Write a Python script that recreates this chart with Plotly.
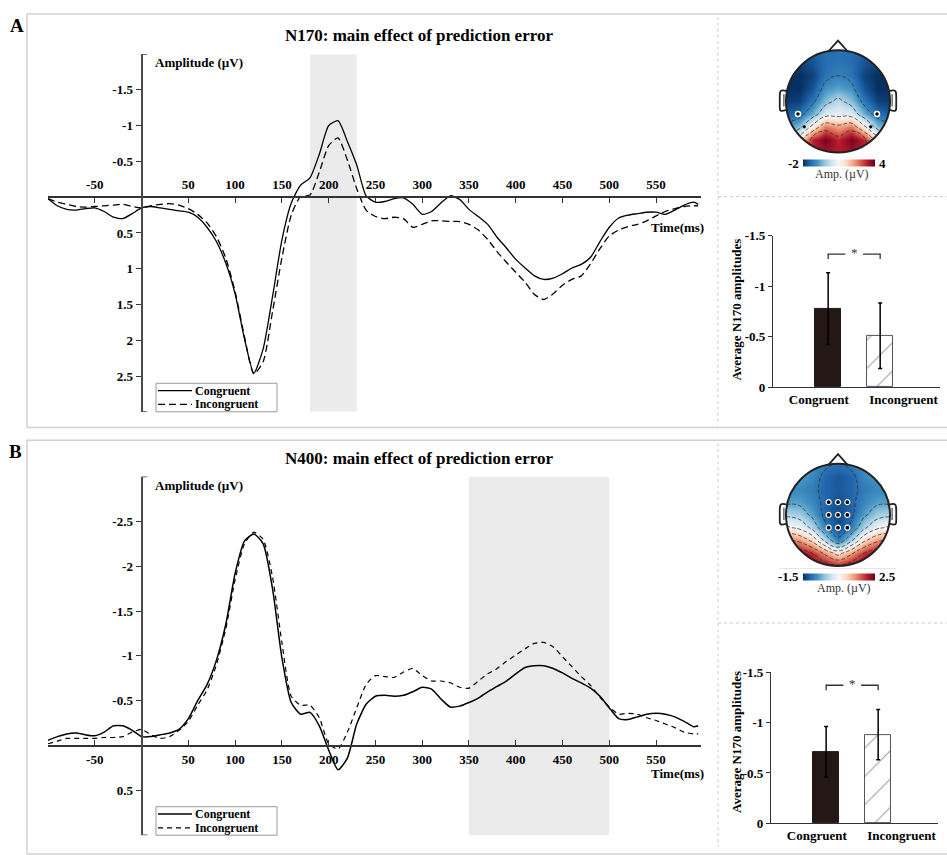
import math
import plotly.graph_objects as go

W, H = 947, 855
SERIF = "Liberation Serif"

# ---------------- data ----------------
times = [-100, -90, -80, -70, -60, -50, -40, -30, -20, -10, 0, 10, 20, 30, 40, 50, 60, 70, 80, 90,
         100, 110, 120, 130, 140, 150, 160, 170, 180, 190, 200, 210, 220, 230, 240, 250, 260, 270,
         280, 290, 300, 310, 320, 330, 340, 350, 360, 370, 380, 390, 400, 410, 420, 430, 440, 450,
         460, 470, 480, 490, 500, 510, 520, 530, 540, 550, 560, 570, 580, 590, 595]

n170_congruent = [0.02, 0.12, 0.17, 0.18, 0.16, 0.15, 0.20, 0.28, 0.30, 0.23, 0.15, 0.13, 0.15, 0.17,
                  0.19, 0.21, 0.28, 0.42, 0.62, 0.92, 1.35, 1.98, 2.46, 2.12, 1.39, 0.60, 0.08, -0.17,
                  -0.27, -0.60, -1.00, -1.07, -0.78, -0.45, -0.02, 0.07, 0.06, 0.02, 0.01, 0.10, 0.24,
                  0.20, 0.08, -0.02, 0.03, 0.17, 0.27, 0.38, 0.56, 0.71, 0.87, 0.99, 1.10, 1.15, 1.13,
                  1.07, 0.99, 0.94, 0.84, 0.62, 0.42, 0.29, 0.25, 0.23, 0.21, 0.21, 0.24, 0.18, 0.11,
                  0.07, 0.10]
n170_incongruent = [0.02, 0.07, 0.10, 0.13, 0.14, 0.13, 0.12, 0.11, 0.10, 0.13, 0.15, 0.12, 0.10, 0.09,
                    0.11, 0.16, 0.24, 0.36, 0.55, 0.85, 1.32, 1.95, 2.47, 2.30, 1.60, 0.85, 0.25, -0.01,
                    -0.03, -0.35, -0.72, -0.83, -0.52, -0.12, 0.18, 0.27, 0.30, 0.28, 0.30, 0.42, 0.38,
                    0.33, 0.33, 0.34, 0.34, 0.38, 0.46, 0.59, 0.76, 0.91, 1.05, 1.19, 1.36, 1.43, 1.35,
                    1.23, 1.15, 1.10, 0.93, 0.72, 0.54, 0.46, 0.41, 0.38, 0.33, 0.26, 0.20, 0.16, 0.13,
                    0.12, 0.12]

n400_congruent = [-0.06, -0.10, -0.13, -0.14, -0.12, -0.11, -0.15, -0.22, -0.22, -0.17, -0.10, -0.10,
                  -0.12, -0.14, -0.18, -0.30, -0.50, -0.68, -0.95, -1.35, -1.92, -2.28, -2.36, -2.25,
                  -1.75, -0.98, -0.48, -0.35, -0.37, -0.22, 0.05, 0.27, 0.14, -0.24, -0.46, -0.55,
                  -0.56, -0.55, -0.56, -0.60, -0.65, -0.63, -0.52, -0.43, -0.44, -0.48, -0.53, -0.60,
                  -0.66, -0.72, -0.80, -0.87, -0.89, -0.89, -0.86, -0.81, -0.75, -0.70, -0.64, -0.55,
                  -0.42, -0.30, -0.29, -0.32, -0.35, -0.36, -0.35, -0.32, -0.27, -0.21, -0.22]
n400_incongruent = [-0.02, -0.05, -0.08, -0.08, -0.08, -0.08, -0.09, -0.09, -0.10, -0.15, -0.18, -0.12,
                    -0.08, -0.10, -0.17, -0.27, -0.45, -0.62, -0.90, -1.30, -1.85, -2.25, -2.38, -2.30,
                    -1.88, -1.15, -0.55, -0.45, -0.45, -0.31, -0.02, 0.04, -0.15, -0.42, -0.68, -0.78,
                    -0.77, -0.76, -0.82, -0.86, -0.78, -0.72, -0.72, -0.70, -0.65, -0.64, -0.72, -0.80,
                    -0.86, -0.94, -1.01, -1.08, -1.14, -1.15, -1.10, -0.99, -0.88, -0.77, -0.67, -0.54,
                    -0.43, -0.35, -0.36, -0.35, -0.31, -0.28, -0.24, -0.20, -0.15, -0.13, -0.13]

n170_window = [180, 230]
n400_window = [350, 500]

erp_xticks = [-50, 50, 100, 150, 200, 250, 300, 350, 400, 450, 500, 550]
n170_yticks = [-1.5, -1, -0.5, 0.5, 1, 1.5, 2, 2.5]
n400_yticks = [-2.5, -2, -1.5, -1, -0.5, 0.5]

conditions = ["Congruent", "Incongruent"]
n170_bar_means = [-0.78, -0.51]
n170_bar_se = [0.355, 0.325]
n400_bar_means = [-0.71, -0.88]
n400_bar_se = [0.25, 0.25]
bar_yticks = [0, -0.5, -1, -1.5]

# topography grids (head coords, rows listed from front/top y=1 to back y=-1)
topo_coords = [-1.0, -0.75, -0.5, -0.25, 0.0, 0.25, 0.5, 0.75, 1.0]
n170_topo_rows = [
    [-1.6, -1.6, -1.5, -1.3, -1.3, -1.3, -1.5, -1.6, -1.6],
    [-1.8, -1.8, -1.6, -1.3, -1.2, -1.3, -1.6, -1.8, -1.8],
    [-2.0, -2.0, -1.8, -1.2, -1.0, -1.2, -1.8, -2.0, -2.0],
    [-2.0, -2.0, -1.6, -0.8, -0.6, -0.8, -1.6, -2.0, -2.0],
    [-1.9, -1.8, -1.2, -0.3, 0.2, -0.3, -1.2, -1.8, -1.9],
    [-1.5, -1.3, -0.5, 0.6, 0.7, 0.6, -0.5, -1.3, -1.5],
    [-0.8, -0.3, 1.2, 2.6, 2.2, 2.6, 1.2, -0.3, -0.8],
    [0.3, 1.5, 3.3, 3.9, 3.3, 3.9, 3.3, 1.5, 0.3],
    [1.0, 2.0, 3.2, 3.5, 3.4, 3.5, 3.2, 2.0, 1.0],
]
n400_topo_rows = [
    [-0.6, -0.6, -0.7, -0.9, -1.0, -0.9, -0.7, -0.6, -0.6],
    [-0.6, -0.6, -0.8, -1.1, -1.2, -1.1, -0.8, -0.7, -0.7],
    [-0.8, -0.8, -0.9, -1.1, -1.2, -1.1, -0.9, -0.8, -0.8],
    [-0.6, -0.6, -0.8, -1.1, -1.25, -1.1, -0.8, -0.6, -0.6],
    [-0.1, -0.2, -0.6, -1.1, -1.3, -1.1, -0.6, -0.2, -0.1],
    [0.6, 0.4, -0.1, -0.9, -1.3, -0.9, -0.1, 0.4, 0.6],
    [1.6, 1.4, 0.9, -0.1, -0.9, -0.1, 0.9, 1.4, 1.6],
    [2.3, 2.3, 2.0, 1.4, 0.8, 1.4, 2.0, 2.3, 2.3],
    [2.5, 2.5, 2.4, 2.3, 2.1, 2.3, 2.4, 2.5, 2.5],
]
n170_elec_x = [-0.77, 0.75]
n170_elec_y = [-0.25, -0.25]
n170_elec2_x = [-0.65, 0.63]
n170_elec2_y = [-0.5, -0.5]
n400_elec_x = [-0.18, 0.0, 0.18, -0.18, 0.0, 0.18, -0.18, 0.0, 0.18]
n400_elec_y = [0.25, 0.25, 0.25, 0.0, 0.0, 0.0, -0.25, -0.25, -0.25]

RDBU = ['#053061', '#2166ac', '#4393c3', '#92c5de', '#d1e5f0', '#f7f7f7',
        '#fddbc7', '#f4a582', '#d6604d', '#b2182b', '#67001f']
colorscale = [[i / (len(RDBU) - 1), c] for i, c in enumerate(RDBU)]


def px(x):
    return x / W


def py(y):
    return 1 - y / H


def font(size=13, bold=True, color="black"):
    return dict(family=SERIF, size=size, color=color, weight="bold" if bold else "normal")


fig = go.Figure()

TOP_SOLID = dict(color="black", width=1.3, shape="spline", smoothing=0.6)
TOP_DASH = dict(color="black", width=1.3, dash="7px,4px", shape="spline", smoothing=0.6)
BOT_SOLID = dict(color="black", width=1.5, shape="spline", smoothing=0.6)
BOT_DASH = dict(color="black", width=1.2, dash="5px,4px", shape="spline", smoothing=0.6)

# ---------------- ERP traces ----------------
fig.add_trace(go.Scatter(x=times, y=n170_congruent, mode="lines", name="Congruent",
                         line=TOP_SOLID, xaxis="x", yaxis="y", showlegend=False))
fig.add_trace(go.Scatter(x=times, y=n170_incongruent, mode="lines", name="Incongruent",
                         line=TOP_DASH, xaxis="x", yaxis="y", showlegend=False))
fig.add_trace(go.Scatter(x=times, y=n400_congruent, mode="lines", name="Congruent",
                         line=BOT_SOLID, xaxis="x2", yaxis="y2", showlegend=False))
fig.add_trace(go.Scatter(x=times, y=n400_incongruent, mode="lines", name="Incongruent",
                         line=BOT_DASH, xaxis="x2", yaxis="y2", showlegend=False))


# ---------------- topographies ----------------
def add_topo(rows, zmin, zmax, start, end, size, xa, ya, cb_y):
    z = rows[::-1]
    fig.add_trace(go.Heatmap(x=topo_coords, y=topo_coords, z=z, zmin=zmin, zmax=zmax, zsmooth="best",
                             colorscale=colorscale, xaxis=xa, yaxis=ya, hoverinfo="skip",
                             colorbar=dict(orientation="h", x=px(839), xanchor="center",
                                           y=py(cb_y), yanchor="middle", len=72, lenmode="pixels",
                                           thickness=7, thicknessmode="pixels", showticklabels=False,
                                           ticks="", outlinewidth=0, xpad=0, ypad=0)))
    fig.add_trace(go.Contour(x=topo_coords, y=topo_coords, z=z, showscale=False, hoverinfo="skip",
                             contours=dict(coloring="none", start=start, end=end, size=size),
                             line=dict(color="#2f2f2f", width=0.75, dash="4px,2px", smoothing=1.3),
                             xaxis=xa, yaxis=ya, showlegend=False))


add_topo(n170_topo_rows, -2, 4, -1, 3, 1, "x3", "y3", 159)
add_topo(n400_topo_rows, -1.5, 2.5, -1, 2, 0.5, "x4", "y4", 580)

fig.add_trace(go.Scatter(x=n170_elec_x, y=n170_elec_y, mode="markers", xaxis="x3", yaxis="y3",
                         marker=dict(color="black", size=5, line=dict(color="white", width=1.5)),
                         showlegend=False, hoverinfo="skip"))
fig.add_trace(go.Scatter(x=n170_elec2_x, y=n170_elec2_y, mode="markers", xaxis="x3", yaxis="y3",
                         marker=dict(color="black", size=4, line=dict(color="white", width=0.6)),
                         showlegend=False, hoverinfo="skip"))
fig.add_trace(go.Scatter(x=n400_elec_x, y=n400_elec_y, mode="markers", xaxis="x4", yaxis="y4",
                         marker=dict(color="black", size=5, line=dict(color="white", width=1.2)),
                         showlegend=False, hoverinfo="skip"))

# ---------------- bar charts ----------------
bar_x = [1, 2]
for means, se, xa, ya in [(n170_bar_means, n170_bar_se, "x5", "y5"),
                          (n400_bar_means, n400_bar_se, "x6", "y6")]:
    fig.add_trace(go.Bar(x=[bar_x[0]], y=[means[0]], width=0.5, xaxis=xa, yaxis=ya,
                         marker=dict(color="#231815", line=dict(color="#231815", width=1)),
                         error_y=dict(type="data", array=[se[0]], color="black", thickness=1.5, width=2),
                         showlegend=False, hoverinfo="skip"))
    fig.add_trace(go.Bar(x=[bar_x[1]], y=[means[1]], width=0.5, xaxis=xa, yaxis=ya,
                         marker=dict(color="white", line=dict(color="#555555", width=1),
                                     pattern=dict(shape="/", fgcolor="#333333", bgcolor="white",
                                                  size=20, solidity=0.05)),
                         error_y=dict(type="data", array=[se[1]], color="black", thickness=1.5, width=2),
                         showlegend=False, hoverinfo="skip"))

# ---------------- layout ----------------
AX = "#333333"


def erp_axes(dom_top, dom_bot, yrange, yticks, side):
    ydom = [py(dom_bot), py(dom_top)]
    xdom = [px(48), px(701)]
    xr = [-100, 598]
    frac0 = (yrange[0] - 0) / (yrange[0] - yrange[1])
    xpos = ydom[0] + (ydom[1] - ydom[0]) * frac0
    ypos = xdom[0] + (xdom[1] - xdom[0]) * (0 - xr[0]) / (xr[1] - xr[0])
    xa = dict(domain=xdom, range=xr, anchor="free", position=xpos, side=side,
              showline=True, linecolor=AX, linewidth=1.5, showgrid=False, zeroline=False,
              ticks="inside", ticklen=5, tickcolor=AX, tickwidth=1.3,
              tickvals=erp_xticks + [598], ticktext=[str(v) for v in erp_xticks] + [""],
              tickfont=font(13), ticklabelstandoff=2)
    ya = dict(domain=ydom, range=yrange, anchor="free", position=ypos,
              showline=True, linecolor="#4a4a4a", linewidth=2, showgrid=False, zeroline=False,
              ticks="outside", ticklen=5, tickcolor=AX, tickwidth=1.3,
              tickvals=yticks, ticktext=[("%g" % v) for v in yticks], tickfont=font(13))
    return xa, ya


xa1, ya1 = erp_axes(48, 412, [3, -2], n170_yticks, "top")
xa2, ya2 = erp_axes(478, 843, [1, -3], n400_yticks, "bottom")


def topo_axes(cx, cy):
    s = 52.0
    xd = [px(cx - 1.25 * s), px(cx + 1.25 * s)]
    yd = [py(cy + 1.05 * s), py(cy - 1.25 * s)]
    xa = dict(domain=xd, range=[-1.25, 1.25], visible=False, fixedrange=True)
    ya = dict(domain=yd, range=[-1.05, 1.25], visible=False, fixedrange=True)
    return xa, ya


xa3, ya3 = topo_axes(838, 96)
xa4, ya4 = topo_axes(838, 517)


def bar_axes(x0, x1, ytop, ybot, yanchor_name, xanchor_name):
    xa = dict(domain=[px(x0), px(x1)], range=[-0.06, 3.15], anchor=yanchor_name,
              showline=True, linecolor=AX, linewidth=1.3, showgrid=False, zeroline=False,
              ticks="", tickvals=[0.82, 2.45], ticktext=conditions, tickfont=font(13))
    ya = dict(domain=[py(ybot), py(ytop)], range=[0, -1.5], anchor=xanchor_name,
              showline=True, linecolor=AX, linewidth=1.3, showgrid=False, zeroline=False,
              ticks="outside", ticklen=4, tickcolor=AX,
              tickvals=bar_yticks, ticktext=[("%g" % v) for v in bar_yticks], tickfont=font(13))
    return xa, ya


xa5, ya5 = bar_axes(773, 940, 233, 387, "y5", "x5")
xa6, ya6 = bar_axes(771, 938, 677, 831, "y6", "x6")

shapes = []
annotations = []


def pline(x0, y0, x1, y1, color="#c8c8c8", width=1, dash="dot"):
    shapes.append(dict(type="line", xref="paper", yref="paper", x0=px(x0), y0=py(y0),
                       x1=px(x1), y1=py(y1), line=dict(color=color, width=width, dash=dash)))


def ann(text, x, y, size=13, bold=True, xanchor="center", angle=0, color="black"):
    annotations.append(dict(text=text, x=px(x), y=py(y), xref="paper", yref="paper",
                            xanchor=xanchor, yanchor="middle", showarrow=False,
                            textangle=angle, font=font(size, bold, color)))


# panel frames
shapes.append(dict(type="rect", xref="paper", yref="paper", x0=px(27), y0=py(428), x1=px(952), y1=py(7),
                   line=dict(color="#d2d2d2", width=1.5)))
shapes.append(dict(type="rect", xref="paper", yref="paper", x0=px(27), y0=py(862), x1=px(952), y1=py(441),
                   line=dict(color="#d2d2d2", width=1.5)))
pline(718, 10, 718, 426)
pline(718, 193, 947, 193)
pline(718, 444, 718, 855)
pline(718, 627, 947, 627)

# analysis windows
shapes.append(dict(type="rect", xref="x", yref="y", x0=n170_window[0], x1=n170_window[1], y0=3, y1=-2,
                   fillcolor="#ebebeb", line=dict(width=0), layer="below"))
shapes.append(dict(type="rect", xref="x2", yref="y2", x0=n400_window[0], x1=n400_window[1], y0=1, y1=-3,
                   fillcolor="#ebebeb", line=dict(width=0), layer="below"))

# y-axis end caps
for xr_, yr_, vals in [("x", "y", [-2, 3]), ("x2", "y2", [-3, 1])]:
    for v in vals:
        shapes.append(dict(type="line", xref=xr_, yref=yr_, x0=0, x1=6, y0=v, y1=v,
                           line=dict(color="#4a4a4a", width=1.5)))

# manual legends (box, sample lines, labels)
for top, solid, dash in [(383, TOP_SOLID, TOP_DASH), (814, BOT_SOLID, BOT_DASH)]:
    shapes.append(dict(type="rect", xref="paper", yref="paper", x0=px(156), x1=px(277),
                       y0=py(top + 29), y1=py(top), fillcolor="white",
                       line=dict(color="#9a9a9a", width=1)))
    pline(158, top + 7.5, 192, top + 7.5, color="black", width=solid["width"], dash="solid")
    pline(158, top + 21.5, 192, top + 21.5, color="black", width=dash["width"], dash=dash["dash"])
    ann("Congruent", 193, top + 7.5, 12, xanchor="left")
    ann("Incongruent", 193, top + 21.5, 12, xanchor="left")

# significance brackets
for xr_, yr_, yb in [("x5", "y5", -1.32), ("x6", "y6", -1.37)]:
    shapes.append(dict(type="path", xref=xr_, yref=yr_,
                       path=f"M1,{yb + 0.05} L1,{yb} L1.33,{yb}", line=dict(color="#333", width=1.3)))
    shapes.append(dict(type="path", xref=xr_, yref=yr_,
                       path=f"M1.67,{yb} L2,{yb} L2,{yb + 0.05}", line=dict(color="#333", width=1.3)))

# topo masks & head outlines
L = 1.25
ring = []
n = 120
for k in range(n):
    a = 2 * math.pi * k / n
    ring.append(f"{math.cos(a):.4f},{math.sin(a):.4f}")
mask = f"M{-L},{-L} L{L},{-L} L{L},{L} L{-L},{L} Z M" + " L".join(ring) + " Z"
for xr_, yr_ in [("x3", "y3"), ("x4", "y4")]:
    shapes.append(dict(type="path", xref=xr_, yref=yr_, path=mask, fillcolor="white",
                       fillrule="evenodd", line=dict(width=0), layer="above"))
    shapes.append(dict(type="circle", xref=xr_, yref=yr_, x0=-1, y0=-1, x1=1, y1=1,
                       line=dict(color="#222", width=2), layer="above"))
    shapes.append(dict(type="path", xref=xr_, yref=yr_, path="M-0.18,0.985 L0,1.19 L0.18,0.985",
                       line=dict(color="#222", width=1.8), layer="above"))
    for sgn in (-1, 1):
        def e(v, s=sgn):
            return f"{s * v:.3f}"
        shapes.append(dict(type="path", xref=xr_, yref=yr_,
                           path=(f"M{e(0.985)},0.2 C{e(1.11)},0.24 {e(1.12)},0.2 {e(1.12)},0.1 "
                                 f"L{e(1.12)},-0.12 C{e(1.12)},-0.2 {e(1.1)},-0.2 {e(0.985)},-0.17"),
                           line=dict(color="#222", width=1.8), layer="above"))
        shapes.append(dict(type="path", xref=xr_, yref=yr_,
                           path=f"M{e(1.04)},0.14 L{e(1.04)},-0.1",
                           line=dict(color="#222", width=1), layer="above"))

ann("A", 17, 19, 19)
ann("B", 16, 452, 19)
ann("N170: main effect of prediction error", 419, 29, 17)
ann("N400: main effect of prediction error", 419, 460, 17)
ann("Amplitude (µV)", 153, 57, 13, xanchor="left")
ann("Amplitude (µV)", 153, 487, 13, xanchor="left")
ann("Time(ms)", 677, 224, 13)
ann("Time(ms)", 677, 780, 13)
ann("-2", 801, 159, 13, xanchor="right")
ann("4", 877, 159, 13, xanchor="left")
ann("Amp. (µV)", 842, 170, 12, bold=False, color="#333")
ann("-1.5", 801, 580, 13, xanchor="right")
ann("2.5", 877, 580, 13, xanchor="left")
ann("Amp. (µV)", 844, 591, 12, bold=False, color="#333")
ann("Average N170 amplitudes", 737, 308, 13, angle=-90)
ann("Average N170 amplitudes", 737, 748, 13, angle=-90)
ann("*", 854, 250, 13, bold=False, color="#333")
ann("*", 852, 689, 13, bold=False, color="#333")

fig.update_layout(
    width=W, height=H, margin=dict(l=0, r=0, t=0, b=0),
    paper_bgcolor="white", plot_bgcolor="white",
    font=font(13), showlegend=False, bargap=0,
    xaxis=xa1, yaxis=ya1, xaxis2=xa2, yaxis2=ya2,
    xaxis3=xa3, yaxis3=ya3, xaxis4=xa4, yaxis4=ya4,
    xaxis5=xa5, yaxis5=ya5, xaxis6=xa6, yaxis6=ya6,
    shapes=shapes, annotations=annotations,
)

PAGE_FIX = ("document.documentElement.style.margin='0';document.body.style.margin='0';"
            "document.body.style.padding='0';document.body.style.overflow='hidden';"
            "var g=document.getElementsByClassName('plotly-graph-div')[0];"
            "g.style.position='absolute';g.style.left='0px';g.style.top='0px';")

fig.write_html("out.html", post_script=PAGE_FIX, config={"displayModeBar": False})
